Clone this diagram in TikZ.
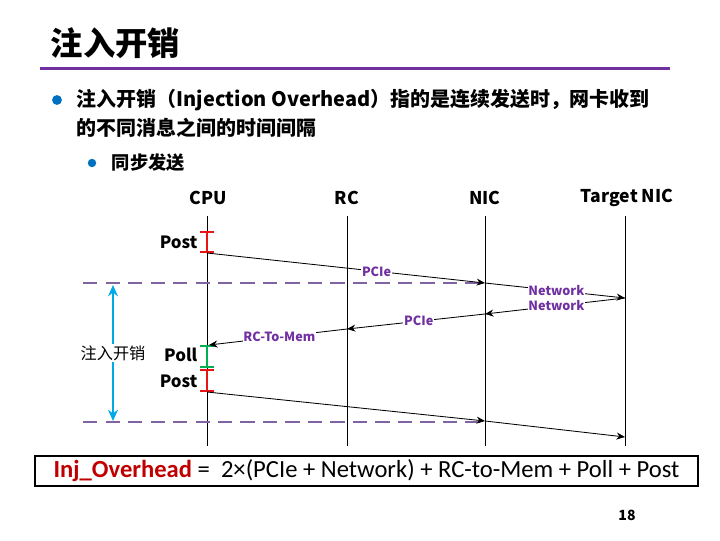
\documentclass[tikz,border=0pt]{standalone}
\usepackage{fontspec}
\setmainfont{Noto Sans CJK SC}
\newfontfamily\formulafont{Carlito}
\usetikzlibrary{arrows.meta,positioning,calc}
\definecolor{slidePurple}{RGB}{112,48,160}
\definecolor{dashPurple}{RGB}{128,100,162}
\definecolor{bulletBlue}{RGB}{0,112,192}
\definecolor{postRed}{RGB}{230,20,20}
\definecolor{pollGreen}{RGB}{0,176,80}
\definecolor{spanBlue}{RGB}{0,170,230}
\definecolor{formulaRed}{RGB}{192,0,0}

\begin{document}
\begin{tikzpicture}[x=0.025cm, y=-0.025cm,
        head/.style={font=\fontsize{12.5}{15}\selectfont\bfseries},
        side/.style={font=\fontsize{12}{14}\selectfont\bfseries, anchor=east, inner sep=1pt},
        lbl/.style={font=\fontsize{9}{10}\selectfont\bfseries, text=slidePurple, fill=white, inner sep=0.6pt},
        msg/.style={-{Stealth[length=6pt,width=5pt]}, semithick},
        life/.style={line width=0.7pt},
        tbar/.style={{Bar[width=10pt]}-{Bar[width=10pt]}, line width=1.6pt},
        gap/.style={dash pattern=on 10pt off 6pt, dashPurple, line width=1pt},
        span/.style={{Stealth[length=8pt,width=7pt]}-{Stealth[length=8pt,width=7pt]}, spanBlue, line width=1.5pt},
        dot/.style={circle, fill=bulletBlue, inner sep=0pt}
      ]
        \useasboundingbox (0,0) rectangle (720,540);
        % TITLE
        \node[anchor=west, font=\fontsize{23}{27}\selectfont\bfseries] (title) at (46,43) {注入开销};
        \draw[slidePurple, line width=1.5pt] (40,68.5) -- (670,68.5);
        % BULLETS
        \node[dot, minimum size=7pt] (dot1) at (57,100) {};
        \node[anchor=west, font=\fontsize{14.2}{17}\selectfont\bfseries] (bul1) at (72,100) {注入开销（Injection Overhead）指的是连续发送时，网卡收到};
        \node[anchor=west, font=\fontsize{14.2}{17}\selectfont\bfseries] (bul1b) at (72,128) {的不同消息之间的时间间隔};
        \node[dot, minimum size=6pt] (dot2) at (92,163) {};
        \node[anchor=west, font=\fontsize{13}{15}\selectfont\bfseries] (bul2) at (107,163) {同步发送};
        % LIFELINES
        \node[head] (cpu) at (208,198) {CPU};
        \node[head] (rc) at (347,198) {RC};
        \node[head] (nic) at (485,198) {NIC};
        \node[head] (tnic) at (627,198) {Target NIC};
        \coordinate (cpuTop) at (207,216);  \coordinate (cpuBot) at (207,446);
        \coordinate (rcTop) at (347,216);   \coordinate (rcBot) at (347,446);
        \coordinate (nicTop) at (485,216);  \coordinate (nicBot) at (485,446);
        \coordinate (tnicTop) at (625,216); \coordinate (tnicBot) at (625,446);
        \draw[life] (cpuTop) -- (cpuBot);
        \draw[life] (rcTop) -- (rcBot);
        \draw[life] (nicTop) -- (nicBot);
        \draw[life] (tnicTop) -- (tnicBot);
        % INTERVAL MARKS
        \coordinate (gapA) at (83,283);  \coordinate (gapAend) at (485,283);
        \coordinate (gapB) at (83,422);  \coordinate (gapBend) at (485,422);
        \draw[gap] (gapA) -- (gapAend);
        \draw[gap] (gapB) -- (gapBend);
        % CPU busy bars
        \coordinate (post1a) at (207,231); \coordinate (post1b) at (207,253);
        \coordinate (polla) at (207,345);  \coordinate (pollb) at (207,368);
        \coordinate (post2a) at (207,369); \coordinate (post2b) at (207,392);
        \draw[tbar, pollGreen] (polla) -- (pollb);
        \draw[tbar, postRed] (post1a) -- (post1b);
        \draw[tbar, postRed] (post2a) -- (post2b);
        \node[side] (postA) at (199,242) {Post};
        \node[side] (poll) at (199,355) {Poll};
        \node[side] (postB) at (199,381) {Post};
        % MESSAGES
        \coordinate (nic1) at (485,283);
        \coordinate (tnic1) at (625,298);
        \coordinate (nic2) at (485,314);
        \coordinate (rc2) at (347,329);
        \coordinate (cpu2) at (209,345);
        \coordinate (nic3) at (485,421);
        \coordinate (tnic3) at (625,437);
        \draw[msg] (post1b) -- node[lbl, pos=0.61]{PCIe} (nic1);
        \draw[msg] (nic1) -- node[lbl, pos=0.51]{Network} (tnic1);
        \draw[msg] (tnic1) -- node[lbl, pos=0.49]{Network} (nic2);
        \draw[msg] (nic2) -- node[lbl, pos=0.48]{PCIe} (rc2);
        \draw[msg] (rc2) -- node[lbl, pos=0.49]{RC-To-Mem} (cpu2);
        \draw[msg] (post2b) -- (nic3);
        \draw[msg] (nic3) -- (tnic3);
        % INJECTION OVERHEAD SPAN
        \coordinate (spanTop) at (113,285);
        \coordinate (spanBot) at (113,421);
        \draw[span] (spanTop) -- node[fill=white, inner sep=1pt, font=\fontsize{11.5}{14}\selectfont, text=black, pos=0.5]{注入开销} (spanBot);
        % FORMULA
        \node[draw, line width=1.4pt, minimum width=16.575cm, minimum height=0.75cm, inner sep=0pt,
              font=\formulafont\fontsize{17.5}{20}\selectfont] (formula) at (366.5,471)
              {{\bfseries\color{formulaRed}Inj\_Overhead} =\ \ 2×(PCIe + Network) + RC-to-Mem + Poll + Post};
        \node[font=\fontsize{10}{12}\selectfont\bfseries] (page) at (627,515) {18};
      \end{tikzpicture}
\end{document}
